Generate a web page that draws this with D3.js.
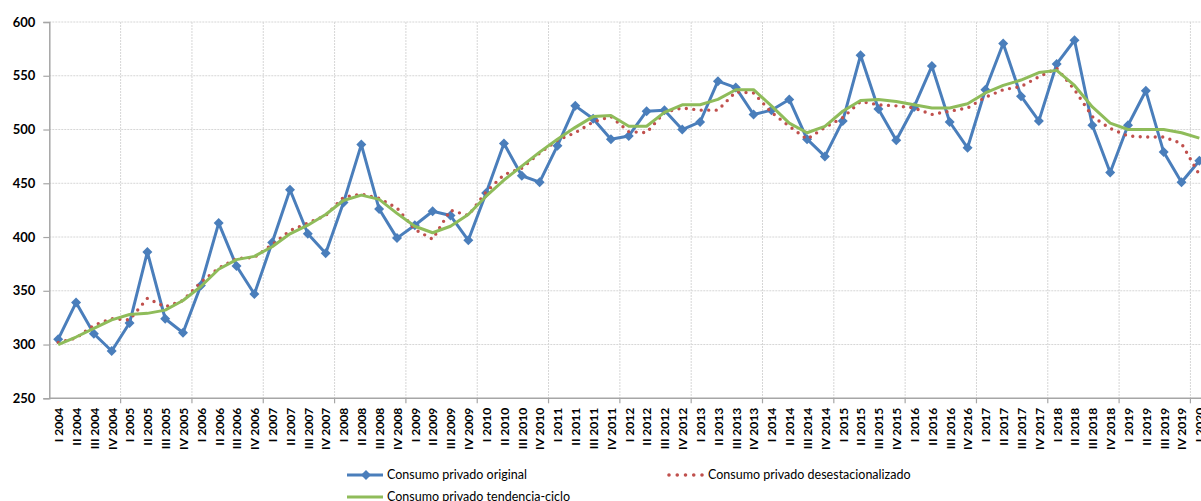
<!DOCTYPE html>
<html>
<head>
<meta charset="utf-8">
<script src="https://cdn.jsdelivr.net/npm/d3@7"></script>
<style>
  html, body { margin: 0; padding: 0; background: #fff; overflow: hidden; }
  svg { display: block; font-family: Lato, "Open Sans", sans-serif; }
</style>
</head>
<body>
<div id="chart"></div>
<script>
// Quarter labels, I 2004 .. I 2020
const quarters = [
  'I 2004', 'II 2004', 'III 2004', 'IV 2004',
  'I 2005', 'II 2005', 'III 2005', 'IV 2005',
  'I 2006', 'II 2006', 'III 2006', 'IV 2006',
  'I 2007', 'II 2007', 'III 2007', 'IV 2007',
  'I 2008', 'II 2008', 'III 2008', 'IV 2008',
  'I 2009', 'II 2009', 'III 2009', 'IV 2009',
  'I 2010', 'II 2010', 'III 2010', 'IV 2010',
  'I 2011', 'II 2011', 'III 2011', 'IV 2011',
  'I 2012', 'II 2012', 'III 2012', 'IV 2012',
  'I 2013', 'II 2013', 'III 2013', 'IV 2013',
  'I 2014', 'II 2014', 'III 2014', 'IV 2014',
  'I 2015', 'II 2015', 'III 2015', 'IV 2015',
  'I 2016', 'II 2016', 'III 2016', 'IV 2016',
  'I 2017', 'II 2017', 'III 2017', 'IV 2017',
  'I 2018', 'II 2018', 'III 2018', 'IV 2018',
  'I 2019', 'II 2019', 'III 2019', 'IV 2019',
  'I 2020'
]

const original = [
  305, 339, 310, 294,
  320, 386, 324, 311,
  355, 413, 373, 347,
  395, 444, 403, 385,
  432, 486, 426, 399,
  411, 424, 420, 397,
  441, 487, 457, 451,
  485, 522, 510, 491,
  494, 517, 518, 500,
  507, 545, 539, 514,
  518, 528, 491, 475,
  508, 569, 519, 490,
  521, 559, 507, 483,
  537, 580, 531, 508,
  561, 583, 504, 460,
  504, 536, 479, 451,
  471
]

const desestacionalizado = [
  302, 306, 318, 324,
  323, 343, 335, 341,
  358, 371, 380, 381,
  393, 406, 413, 420,
  437, 440, 436, 427,
  407, 398, 425, 420,
  442, 458, 464, 478,
  490, 497, 507, 512,
  498, 497, 516, 520,
  518, 518, 535, 534,
  516, 503, 491, 502,
  511, 526, 523, 522,
  520, 514, 517, 520,
  530, 537, 540, 549,
  557, 537, 512, 501,
  494, 493, 493, 487,
  458
]

const tendencia = [
  300, 307, 315, 323,
  328, 329, 332, 341,
  354, 370, 379, 382,
  391, 403, 411, 421,
  434, 439, 435, 422,
  410, 404, 410, 421,
  438, 453, 466, 479,
  491, 502, 512, 513,
  503, 503, 516, 523,
  523, 528, 537, 537,
  522, 506, 497, 503,
  517, 527, 528, 526,
  523, 520, 520, 524,
  534, 541, 546, 553,
  555, 541, 521, 506,
  500, 500, 500, 497,
  492
]

const yTicks = [250, 300, 350, 400, 450, 500, 550, 600]

const series = [
  { name: 'Consumo privado original', values: original, color: '#4a7ebb' },
  { name: 'Consumo privado desestacionalizado', values: desestacionalizado, color: '#c0504d' },
  { name: 'Consumo privado tendencia-ciclo', values: tendencia, color: '#8fbc5a' }
]

const width = 1201
const height = 501
const plot = { left: 49.3, top: 22, bottom: 398.3, step: 17.83 }

const svg = d3.select('#chart')
  .append('svg')
  .attr('width', width)
  .attr('height', height)

// scales
const x = d3.scaleBand()
  .domain(quarters)
  .range([plot.left, plot.left + quarters.length * plot.step])
  .padding(0)
const y = d3.scaleLinear()
  .domain([250, 600])
  .range([plot.bottom, plot.top])

const cx = d => x(d) + x.bandwidth() / 2

// gridlines
const yearStarts = quarters.filter((q, i) => i % 4 === 0 && i > 0)
const grid = svg.append('g').attr('stroke', '#d6d6d6').attr('stroke-width', 1).attr('stroke-dasharray', '2 1')
grid.selectAll('.hg')
  .data(yTicks.filter(t => t > 250))
  .join('line')
  .attr('x1', plot.left).attr('x2', width)
  .attr('y1', d => y(d)).attr('y2', d => y(d))
grid.selectAll('.vg')
  .data(yearStarts)
  .join('line')
  .attr('x1', d => x(d)).attr('x2', d => x(d))
  .attr('y1', plot.top).attr('y2', plot.bottom)

// y axis
const yAxis = svg.append('g')
  .attr('transform', `translate(${plot.left},0)`)
  .call(d3.axisLeft(y).tickValues(yTicks).tickSize(6).tickPadding(8))
yAxis.select('.domain').attr('stroke', '#a6a6a6').attr('stroke-width', 1.5)
yAxis.selectAll('.tick line').attr('stroke', '#a6a6a6').attr('stroke-width', 1.2)
yAxis.selectAll('.tick text')
  .attr('font-family', 'Lato, sans-serif')
  .attr('font-size', 13)
  .attr('font-weight', 'bold')
  .attr('fill', '#000')

// x axis: ticks at year boundaries
const xAxisG = svg.append('g').attr('transform', `translate(0,${plot.bottom})`)
xAxisG.append('line')
  .attr('x1', plot.left).attr('x2', width)
  .attr('stroke', '#a6a6a6').attr('stroke-width', 1.5)
xAxisG.selectAll('.xt')
  .data(yearStarts)
  .join('line')
  .attr('x1', d => x(d)).attr('x2', d => x(d))
  .attr('y1', 0).attr('y2', 5)
  .attr('stroke', '#a6a6a6').attr('stroke-width', 1.2)
xAxisG.selectAll('.xl')
  .data(quarters)
  .join('text')
  .attr('transform', d => `translate(${cx(d) + 0.5},9.5) rotate(-90)`)
  .attr('dy', '0.36em')
  .attr('text-anchor', 'end')
  .attr('font-size', 12)
  .attr('font-weight', 'bold')
  .attr('fill', '#000')
  .text(d => d)

// lines
const line = d3.line()
  .x((v, i) => cx(quarters[i]))
  .y(v => y(v))

const linesG = svg.append('g')
linesG.append('path')
  .datum(original)
  .attr('d', line)
  .attr('fill', 'none')
  .attr('stroke', series[0].color)
  .attr('stroke-width', 3)
  .attr('stroke-linejoin', 'round')

const diamond = r => `M0,${-r}L${r},0L0,${r}L${-r},0Z`
linesG.selectAll('.mk')
  .data(original)
  .join('path')
  .attr('d', diamond(5))
  .attr('transform', (v, i) => `translate(${cx(quarters[i])},${y(v)})`)
  .attr('fill', series[0].color)

linesG.append('path')
  .datum(desestacionalizado)
  .attr('d', line)
  .attr('fill', 'none')
  .attr('stroke', series[1].color)
  .attr('stroke-width', 3.4)
  .attr('stroke-linecap', 'round')
  .attr('stroke-dasharray', '0 7.5')

linesG.append('path')
  .datum(tendencia)
  .attr('d', line)
  .attr('fill', 'none')
  .attr('stroke', series[2].color)
  .attr('stroke-width', 3)
  .attr('stroke-linejoin', 'round')

// legend
const legendPos = [
  { x: 347, y: 475 },
  { x: 669, y: 475 },
  { x: 347, y: 497 }
]
const legend = svg.append('g')
series.forEach((s, i) => {
  const p = legendPos[i]
  const g = legend.append('g').attr('transform', `translate(${p.x},${p.y})`)
  const ln = g.append('line')
    .attr('x1', 0).attr('x2', 36)
    .attr('stroke', s.color)
    .attr('stroke-width', 3)
  if (i === 0) {
    g.append('path').attr('d', diamond(5)).attr('transform', 'translate(19,0)').attr('fill', s.color)
  }
  if (i === 1) {
    ln.attr('stroke-linecap', 'round').attr('stroke-dasharray', '0 8.25')
      .attr('x1', 0).attr('x2', 34).attr('stroke-width', 3.6)
  }
  g.append('text')
    .attr('x', i === 1 ? 39 : 40)
    .attr('dy', '0.35em')
    .attr('font-size', 12.5)
    .attr('fill', '#000')
    .text(s.name)
})
</script>
</body>
</html>
